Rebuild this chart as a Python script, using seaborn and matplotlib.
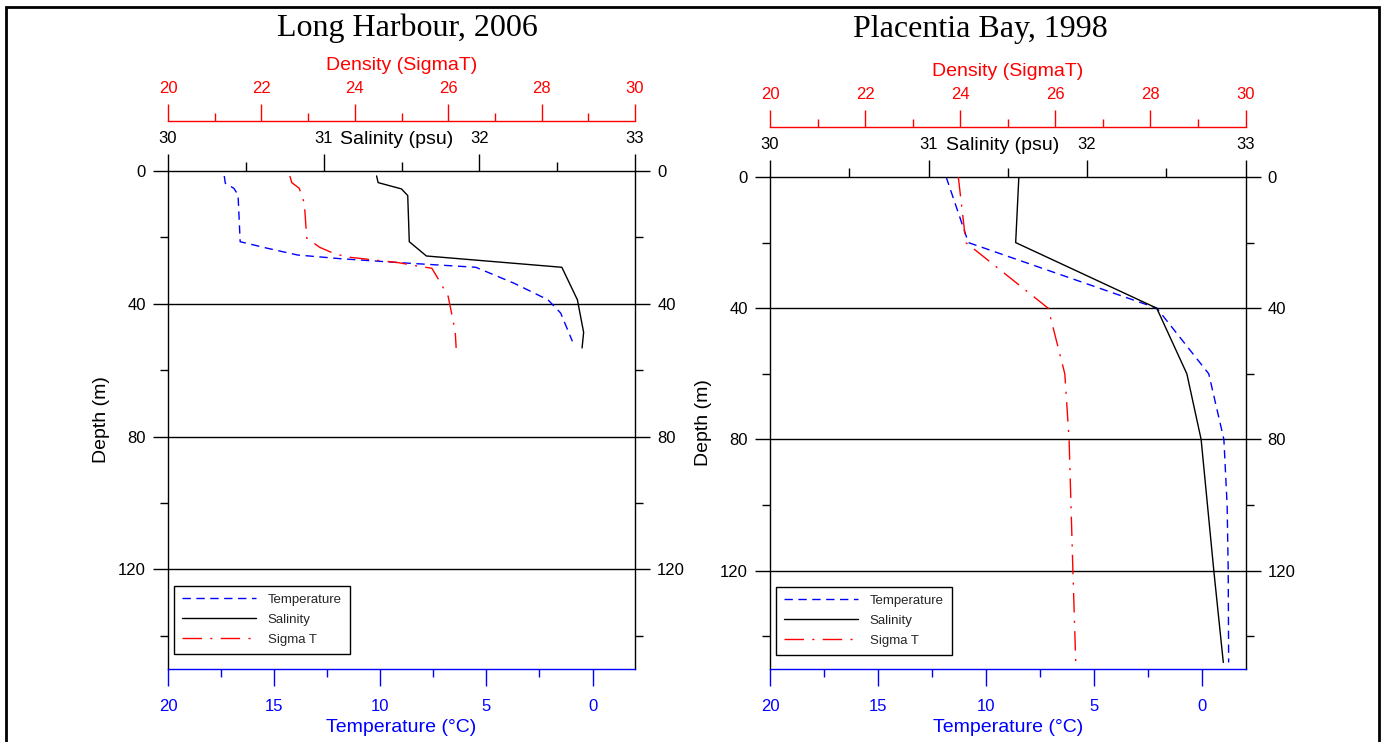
import numpy as np
import pandas as pd
import seaborn as sns
import matplotlib
matplotlib.use('Agg')
from matplotlib import pyplot as plt
from matplotlib.patches import Rectangle

sns.set_theme(style='white')
plt.rcParams['font.family'] = ['Liberation Sans', 'DejaVu Sans']

# Long Harbour, 2006
lh_temp_depth = [1.5, 3.7, 5.2, 7.2, 21.3, 23.3, 25.3, 26.4, 27.6, 29.0, 33.8, 38.8, 42.8, 51.3]
lh_temp = [17.35, 17.3, 16.9, 16.7, 16.6, 15.3, 13.9, 11.9, 9.1, 5.5, 3.7, 2.1, 1.5, 0.95]
lh_sal_depth = [1.5, 3.5, 5.4, 7.4, 21.3, 25.6, 29.0, 38.8, 48.6, 53.3]
lh_sal = [31.34, 31.35, 31.50, 31.54, 31.55, 31.66, 32.53, 32.63, 32.67, 32.66]
lh_sig_depth = [1.5, 3.5, 5.2, 9.7, 20.2, 23.0, 25.0, 26.0, 27.6, 28.6, 29.3, 33.3, 37.8, 48.3, 53.3]
lh_sig = [22.61, 22.65, 22.81, 22.92, 22.97, 23.25, 23.58, 23.9, 24.93, 25.33, 25.65, 25.82, 26.0, 26.15, 26.17]

# Placentia Bay, 1998
pb_depth = [0, 20, 40, 60, 80, 100, 120, 148]
pb_temp = [11.85, 10.82, 2.1, -0.3, -1.0, -1.15, -1.2, -1.22]
pb_sal = [31.57, 31.55, 32.44, 32.63, 32.72, 32.76, 32.80, 32.86]
pb_sig = [23.96, 24.12, 25.85, 26.2, 26.29, 26.33, 26.37, 26.43]

legend_labels = ['Temperature', 'Salinity', 'Sigma T']

fig = plt.figure(figsize=(13.83, 7.42), dpi=100)
W, H = 1383, 742


def panel(rect, title, title_xy, leg_anchor, depth_t, temp, depth_s, sal, depth_d, sig):
    ax = fig.add_axes(rect)
    sal_ax = ax.twiny()
    den_ax = ax.twiny()

    sns.lineplot(x=temp, y=depth_t, ax=ax, sort=False, estimator=None, color='blue',
                 lw=1, linestyle=(0, (6, 4)), legend=False)
    sns.lineplot(x=sal, y=depth_s, ax=sal_ax, sort=False, estimator=None, color='black',
                 lw=1, legend=False)
    sns.lineplot(x=sig, y=depth_d, ax=den_ax, sort=False, estimator=None, color='red',
                 lw=1, linestyle=(0, (14, 6, 1.5, 6)), legend=False)
    handles = [ax.lines[0], sal_ax.lines[0], den_ax.lines[0]]

    for d in [40, 80, 120]:
        ax.axhline(d, color='black', lw=1, zorder=0.5)

    # depth axis
    ax.set_ylim(150, 0)
    ax.set_yticks([0, 40, 80, 120])
    ax.set_yticks([20, 60, 100, 140], minor=True)
    ax.tick_params(axis='y', which='both', left=True, right=True, labelleft=True,
                   labelright=True, direction='out', width=1, colors='black',
                   labelsize=12, pad=5)
    ax.tick_params(axis='y', which='major', length=11)
    ax.tick_params(axis='y', which='minor', length=6)
    ax.set_ylabel('Depth (m)', fontsize=14, labelpad=6, color='black')

    # temperature axis (bottom)
    ax.set_xlim(20, -2)
    ax.set_xticks([20, 15, 10, 5, 0])
    ax.set_xticks([17.5, 12.5, 7.5, 2.5], minor=True)
    ax.tick_params(axis='x', which='both', bottom=True, top=False, direction='out',
                   width=1, colors='blue', labelsize=12, pad=9.5)
    ax.tick_params(axis='x', which='major', length=12)
    ax.tick_params(axis='x', which='minor', length=6)
    ax.set_xlabel('Temperature (°C)', color='blue', fontsize=14, labelpad=3.5)
    for side in ['left', 'right']:
        ax.spines[side].set_color('black')
        ax.spines[side].set_linewidth(1)
    ax.spines['bottom'].set_color('blue')
    ax.spines['bottom'].set_linewidth(1)
    ax.spines['top'].set_visible(False)

    # salinity axis (top)
    sal_ax.set_xlim(30, 33)
    sal_ax.set_xticks([30, 31, 32, 33])
    sal_ax.set_xticks([30.5, 31.5, 32.5], minor=True)
    sal_ax.tick_params(axis='x', which='both', top=True, bottom=False, labeltop=True,
                       labelbottom=False, direction='out', width=1, colors='black',
                       labelsize=12, pad=6)
    sal_ax.tick_params(axis='x', which='major', length=12)
    sal_ax.tick_params(axis='x', which='minor', length=6.5)
    sal_ax.set_xlabel('')
    sal_ax.annotate('Salinity (psu)', xy=(31.47, 1), xycoords=('data', 'axes fraction'),
                    xytext=(0, 22.5), textcoords='offset points', ha='center', va='center',
                    fontsize=14, color='black')
    for side in ['left', 'right', 'bottom']:
        sal_ax.spines[side].set_visible(False)
    sal_ax.spines['top'].set_color('black')
    sal_ax.spines['top'].set_linewidth(1)

    # density axis (top, offset)
    den_ax.set_xlim(20, 30)
    den_ax.set_xticks([20, 22, 24, 26, 28, 30])
    den_ax.set_xticks([21, 23, 25, 27, 29], minor=True)
    den_ax.tick_params(axis='x', which='both', top=True, bottom=False, labeltop=True,
                       labelbottom=False, direction='out', width=1, colors='red',
                       labelsize=12, pad=6)
    den_ax.tick_params(axis='x', which='major', length=12)
    den_ax.tick_params(axis='x', which='minor', length=6)
    den_ax.spines['top'].set_position(('outward', 36))
    den_ax.spines['top'].set_color('red')
    den_ax.spines['top'].set_linewidth(1)
    for side in ['left', 'right', 'bottom']:
        den_ax.spines[side].set_visible(False)
    den_ax.xaxis.set_label_position('top')
    den_ax.set_xlabel('Density (SigmaT)', color='red', fontsize=14, labelpad=8)

    leg = den_ax.legend(handles, legend_labels, loc='lower left', bbox_to_anchor=leg_anchor,
                        borderaxespad=0, fontsize=9.5, handlelength=5.6, handletextpad=0.9,
                        borderpad=0.6, labelspacing=0.6, fancybox=False, framealpha=1)
    leg.get_frame().set_edgecolor('black')
    leg.get_frame().set_linewidth(1)

    fig.text(title_xy[0], title_xy[1], title, family='Liberation Serif', fontsize=23,
             ha='center', va='center', color='black')


panel([168 / W, 73 / H, 467 / W, 498 / H], 'Long Harbour, 2006', (407 / W, 1 - 28 / H),
      (6 / 467, 15 / 498), lh_temp_depth, lh_temp, lh_sal_depth, lh_sal, lh_sig_depth, lh_sig)
panel([770 / W, 73 / H, 475.5 / W, 492 / H], 'Placentia Bay, 1998', (980 / W, 1 - 30 / H),
      (6 / 475.5, 14 / 492), pb_depth, pb_temp, pb_depth, pb_sal, pb_depth, pb_sig)

# outer frame
fig.add_artist(Rectangle((6 / W, -0.05), (1379 - 6) / W, 1.05 - 7 / H, transform=fig.transFigure,
                         fill=False, edgecolor='black', lw=2, clip_on=False))

fig.savefig('out.png', dpi=100)
